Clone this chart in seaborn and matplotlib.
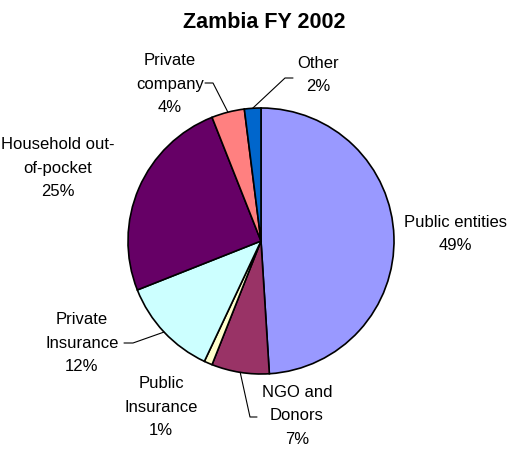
import numpy as np
import matplotlib.pyplot as plt
import seaborn as sns
from matplotlib.lines import Line2D

sns.set_style("white")
plt.rcParams['font.family'] = ['Liberation Sans', 'DejaVu Sans']
plt.rcParams['text.color'] = 'black'

labels = ["Public entities", "NGO and\nDonors", "Public\nInsurance", "Private\nInsurance",
          "Household out-\nof-pocket", "Private\ncompany", "Other"]
shares = [49, 7, 1, 12, 25, 4, 2]
colors = ["#9999FF", "#993366", "#FFFFCC", "#CCFFFF", "#660066", "#FF8080", "#0066CC"]

W, H = 511, 449
fig = plt.figure(figsize=(W / 100, H / 100), dpi=100)
cx, cy, r = 261, 241, 133
ax = fig.add_axes([(cx - r) / W, (H - cy - r) / H, 2 * r / W, 2 * r / H])
wedges, _ = ax.pie(shares, colors=colors, startangle=90, counterclock=False,
                   wedgeprops=dict(edgecolor="black", linewidth=1.2))
ax.set_xlim(-1, 1)
ax.set_ylim(-1, 1)
ax.axis("off")

fig.text(264 / W, 1 - 23 / H, "Zambia FY 2002", ha="center", va="center",
         fontsize=15.5, fontweight="bold")

# label centre (px from top-left) and leader line path (px), None if no leader
label_pos = [(455, 234), (297, 416), (161, 407), (82, 343), (58, 168), (170, 84), (318, 75)]
leaders = [None, [(257, 417), (250, 417)], None, [(124, 343), (133, 343)], None,
           [(205, 83), (213, 83)], [(293, 78), (285, 78)]]

for w, lab, sh, (tx, ty), ld in zip(wedges, labels, shares, label_pos, leaders):
    fig.text(tx / W, 1 - ty / H, f"{lab}\n{sh}%", ha="center", va="center",
             fontsize=12, linespacing=1.7, multialignment="center")
    if ld is not None:
        ang = np.deg2rad((w.theta1 + w.theta2) / 2)
        px = cx + r * np.cos(ang)
        py = cy - r * np.sin(ang)
        xs = [p[0] for p in ld] + [px]
        ys = [p[1] for p in ld] + [py]
        fig.add_artist(Line2D([x / W for x in xs], [1 - y / H for y in ys],
                              color="black", linewidth=0.8))

fig.savefig("out.png", dpi=100)
